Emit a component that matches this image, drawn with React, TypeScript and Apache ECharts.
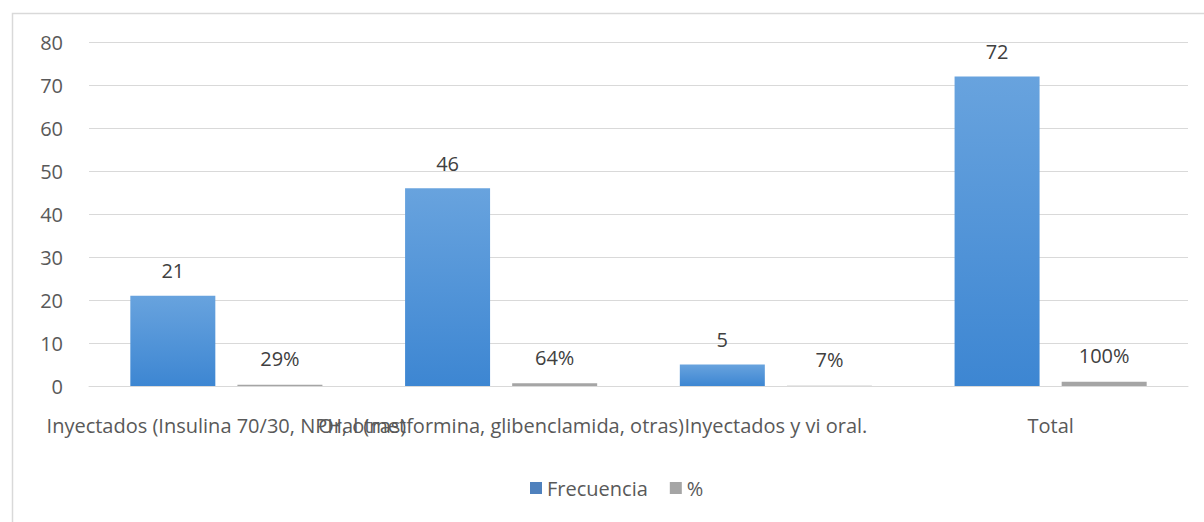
import React, { useEffect, useRef } from "react";
import * as echarts from "echarts";

const categories = [
  "Inyectados (Insulina 70/30, NPH, otras)",
  "Oral (metformina, glibenclamida, otras)",
  "Inyectados y vi oral.",
  "Total",
];
const frecuencia = [21, 46, 5, 72];
const porcentaje = [0.29, 0.64, 0.07, 1.0];
const yTicks = { min: 0, max: 80, interval: 10 };

const FONT = "Open Sans";
const TXT = "#595959";
const FS = 20;

export default function App() {
  const ref = useRef<HTMLDivElement>(null);
  useEffect(() => {
    const chart = echarts.init(ref.current!, null, { renderer: "svg" });
    chart.setOption({
      animation: false,
      backgroundColor: "#ffffff",
      textStyle: { fontFamily: FONT },
      graphic: [
        {
          type: "rect",
          shape: { x: 12.5, y: 13.5, width: 1220, height: 540 },
          style: { fill: "none", stroke: "#d9d9d9", lineWidth: 1.5 },
          silent: true,
        },
      ],
      grid: { left: 89, right: 16, top: 42, bottom: 136 },
      legend: {
        bottom: 19,
        left: 525,
        itemWidth: 12,
        itemHeight: 12,
        itemGap: 22,
        icon: "rect",
        textStyle: { color: TXT, fontSize: FS, fontFamily: FONT },
        data: [
          { name: "Frecuencia", itemStyle: { color: "#4f81bd" } },
          { name: "%", itemStyle: { color: "#a5a5a5" } },
        ],
      },
      xAxis: {
        type: "category",
        data: categories,
        axisTick: { show: false },
        axisLine: { lineStyle: { color: "#d9d9d9", width: 1 } },
        axisLabel: {
          interval: 0,
          color: TXT,
          fontSize: FS,
          margin: 29,
          fontFamily: FONT,
        },
      },
      yAxis: {
        type: "value",
        min: yTicks.min,
        max: yTicks.max,
        interval: yTicks.interval,
        axisLine: { show: false },
        axisTick: { show: false },
        splitLine: { lineStyle: { color: "#d9d9d9", width: 1 } },
        axisLabel: { color: TXT, fontSize: FS, margin: 26, fontFamily: FONT },
      },
      series: [
        {
          name: "Frecuencia",
          type: "bar",
          data: frecuencia,
          barWidth: 85,
          barGap: "26%",
          itemStyle: {
            color: new echarts.graphic.LinearGradient(0, 0, 0, 1, [
              { offset: 0, color: "#68a3de" },
              { offset: 1, color: "#3d86d2" },
            ]),
          },
          label: {
            show: true,
            position: "top",
            distance: 15,
            color: "#404040",
            fontSize: FS,
            fontFamily: FONT,
          },
        },
        {
          name: "%",
          type: "bar",
          data: porcentaje,
          barWidth: 85,
          itemStyle: { color: "#a5a5a5" },
          label: {
            show: true,
            position: "top",
            distance: 16,
            color: "#404040",
            fontSize: FS,
            fontFamily: FONT,
            formatter: (p: any) => Math.round(p.value * 100) + "%",
          },
        },
      ],
    });
    return () => chart.dispose();
  }, []);
  return (
    <div
      ref={ref}
      style={{ position: "fixed", left: 0, top: 0, width: 1204, height: 522 }}
    />
  );
}
